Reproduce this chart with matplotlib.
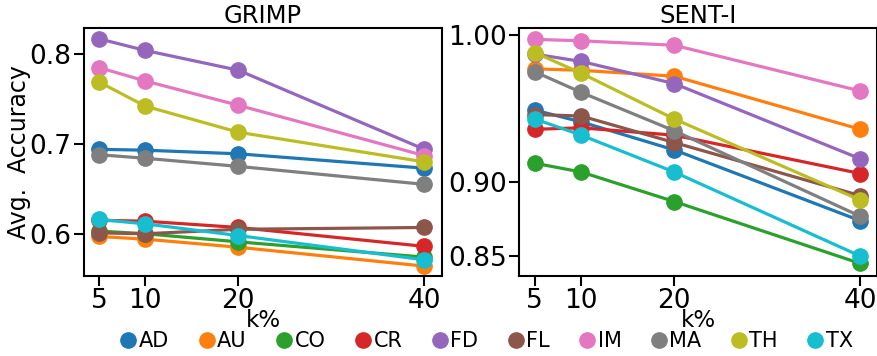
import numpy as np
import matplotlib
matplotlib.use("Agg")
import matplotlib.pyplot as plt

# Données
k_vals = [5, 10, 20, 40]
methods = ["AD", "AU", "CO", "CR", "FD", "FL", "IM", "MA", "TH", "TX"]

grimp = {
    "AD": [0.694, 0.693, 0.689, 0.673],
    "AU": [0.597, 0.594, 0.585, 0.564],
    "CO": [0.603, 0.600, 0.591, 0.574],
    "CR": [0.615, 0.614, 0.607, 0.586],
    "FD": [0.817, 0.804, 0.782, 0.694],
    "FL": [0.601, 0.600, 0.605, 0.607],
    "IM": [0.785, 0.770, 0.743, 0.687],
    "MA": [0.688, 0.684, 0.675, 0.655],
    "TH": [0.769, 0.742, 0.713, 0.680],
    "TX": [0.616, 0.611, 0.598, 0.571],
}

sent = {
    "AD": [0.949, 0.941, 0.922, 0.874],
    "AU": [0.977, 0.976, 0.972, 0.936],
    "CO": [0.913, 0.907, 0.887, 0.845],
    "CR": [0.936, 0.937, 0.932, 0.906],
    "FD": [0.987, 0.982, 0.967, 0.916],
    "FL": [0.946, 0.945, 0.927, 0.891],
    "IM": [0.997, 0.996, 0.993, 0.962],
    "MA": [0.975, 0.961, 0.935, 0.877],
    "TH": [0.988, 0.974, 0.943, 0.888],
    "TX": [0.943, 0.932, 0.907, 0.850],
}

colors = plt.get_cmap("tab10").colors

fig = plt.figure(figsize=(8.78, 3.56), dpi=100)
W, H = 878, 356
ax1 = fig.add_axes([84 / W, (H - 276) / H, (442 - 84) / W, 248 / H])
ax2 = fig.add_axes([519 / W, (H - 276) / H, (877 - 519) / W, 248 / H])

for ax, data, title in [(ax1, grimp, "GRIMP"), (ax2, sent, "SENT-I")]:
    for i, m in enumerate(methods):
        ax.plot(k_vals, data[m], marker="o", markersize=11, linewidth=2.3,
                color=colors[i], label=m)
    ax.set_title(title, fontsize=17.5, pad=3)
    ax.set_xticks(k_vals)
    ax.set_xlabel("k%", fontsize=16.5, labelpad=-4)
    ax.tick_params(labelsize=19, length=7, width=1.5, pad=2)
    for s in ax.spines.values():
        s.set_linewidth(1.5)

ax1.set_xlim(3.4, 41.9)
ax1.set_ylim(0.553, 0.829)
ax1.set_yticks([0.6, 0.7, 0.8])
ax1.set_ylabel("Avg.  Accuracy", fontsize=17, labelpad=-1)

ax2.set_xlim(3.3, 41.8)
ax2.set_ylim(0.8365, 1.0047)
ax2.set_yticks([0.85, 0.90, 1.00])
ax2.set_yticklabels(["0.85", "0.90", "1.00"])

leg_handles = [plt.Line2D([], [], marker="o", linestyle="", markersize=11,
                          color=colors[i]) for i in range(len(methods))]
fig.legend(leg_handles, methods, loc="center", bbox_to_anchor=(0.553, 0.042),
           ncol=10, frameon=False, fontsize=15, handletextpad=0.0,
           columnspacing=1.3, handlelength=1.0, borderaxespad=0)

fig.savefig("out.png", dpi=100)
